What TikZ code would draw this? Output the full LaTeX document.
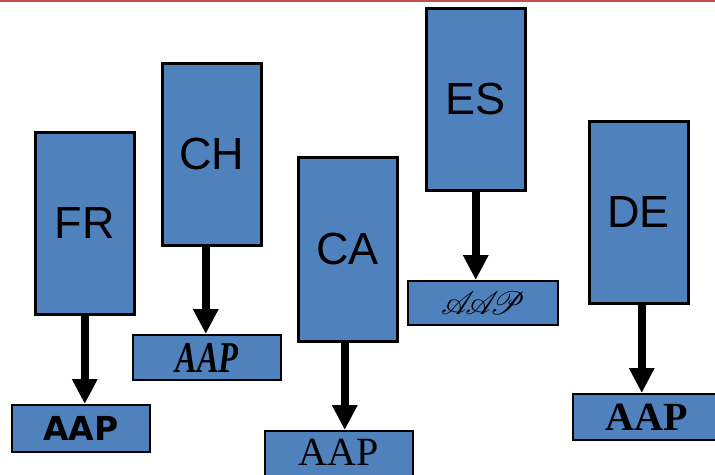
\documentclass[tikz,border=0pt]{standalone}
\usepackage{fontspec}
\setmainfont{Liberation Serif}
\setsansfont{Liberation Sans}
\newfontfamily\heavyfont{DejaVu Sans}
\usepackage{mathrsfs}
\usetikzlibrary{arrows.meta}
\definecolor{boxblue}{HTML}{4F81BD}
\definecolor{linered}{HTML}{C0504D}

\tikzset{
  land/.style={draw, line width=2.5pt, fill=boxblue, minimum width=99pt,
    minimum height=182pt, inner sep=0pt, anchor=north west,
    font=\sffamily\fontsize{45}{45}\selectfont},
  aapbox/.style={draw, line width=2pt, fill=boxblue, minimum width=148pt,
    minimum height=45pt, inner sep=0pt, anchor=north west},
  pfeil/.style={-{Triangle[width=24pt,length=25pt]}, line width=8pt},
}

\begin{document}
\begin{tikzpicture}[x=1pt, y=-1pt]
  \useasboundingbox (0,0) rectangle (715,474);

  \draw[linered, line width=2pt] (0,1) -- (715,1);

  % countries
  \node[land] (fr) at (34,131) {FR};
  \node[land] (ch) at (161,62) {CH};
  \node[land, minimum height=184pt] (ca) at (297,156) {CA};
  \node[land] (es) at (425,7) {ES};
  \node[land] (de) at (588,120) {DE};

  % AAP boxes
  \node[aapbox, minimum width=138pt, minimum height=47pt] (fraap) at (11,404)
    {\heavyfont\bfseries\fontsize{33}{33}\selectfont AAP};
  \node[aapbox] (chaap) at (132,334)
    {\scalebox{0.74}[1]{\bfseries\itshape\fontsize{44}{44}\selectfont AAP}};
  \node[aapbox, minimum height=52pt] (caaap) at (264,430)
    {\raisebox{9pt}{\fontsize{40}{40}\selectfont AAP}};
  \node[aapbox, minimum width=150pt, minimum height=44pt] (esaap) at (407,280)
    {\scalebox{1.3}{\fontsize{24.88}{25}\selectfont
     $\mathscr{A}\kern-7pt\mathscr{A}\kern-7pt\mathscr{P}$}};
  \node[aapbox, minimum height=46pt] (deaap) at (572,393)
    {\bfseries\fontsize{40}{40}\selectfont AAP};

  \draw[pfeil] (fr.south) -- (fr.south |- fraap.north);
  \draw[pfeil] ([xshift=-6pt]ch.south) -- ([xshift=-6pt]ch.south |- chaap.north);
  \draw[pfeil] ([xshift=-3pt]ca.south) -- ([xshift=-3pt]ca.south |- caaap.north);
  \draw[pfeil] (es.south) -- (es.south |- esaap.north);
  \draw[pfeil] ([xshift=3pt]de.south) -- ([xshift=3pt]de.south |- deaap.north);
\end{tikzpicture}
\end{document}
